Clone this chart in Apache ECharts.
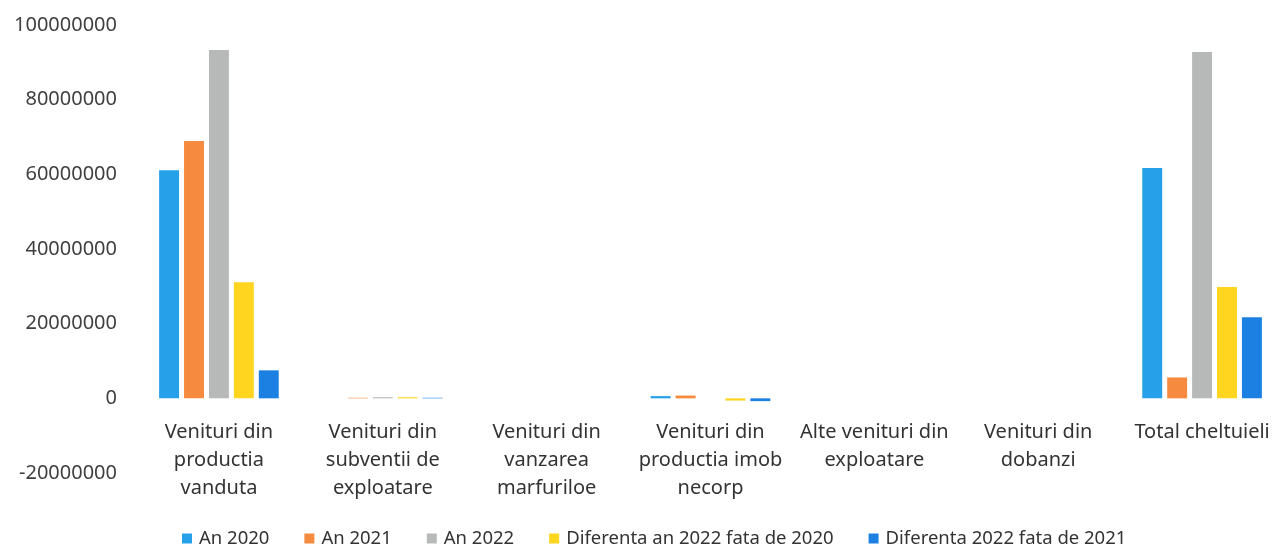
<!DOCTYPE html>
<html>
<head>
<meta charset="utf-8">
<script src="https://cdn.jsdelivr.net/npm/echarts@6/dist/echarts.min.js"></script>
<style>
html,body{margin:0;padding:0;background:#fff;}
#chart{width:1273px;height:546px;}
</style>
</head>
<body>
<div id="chart"></div>
<script>
var categories = [
  "Venituri din\nproductia\nvanduta",
  "Venituri din\nsubventii de\nexploatare",
  "Venituri din\nvanzarea\nmarfuriloe",
  "Venituri din\nproductia imob\nnecorp",
  "Alte venituri din\nexploatare",
  "Venituri din\ndobanzi",
  "Total cheltuieli"
];
var seriesNames = ["An 2020", "An 2021", "An 2022", "Diferenta an 2022 fata de 2020", "Diferenta 2022 fata de 2021"];
var an2020 = [61100000, 0, 0, 600000, 0, 0, 61700000];
var an2021 = [68900000, 150000, 0, 750000, 0, 0, 5600000];
var an2022 = [93300000, 300000, 0, 0, 0, 0, 92800000];
var dif2020 = [31100000, 300000, 0, -600000, 0, 0, 29800000];
var dif2021 = [7500000, 150000, 0, -750000, 0, 0, 21700000];
var colors = ["#27A0EA", "#F68A3E", "#B7B9B8", "#FFD51F", "#1B80E2"];
var yMin = -20000000, yMax = 100000000, yStep = 20000000;

var values = [an2020, an2021, an2022, dif2020, dif2021];
var series = values.map(function (v, i) {
  return {
    name: seriesNames[i],
    type: 'bar',
    data: v,
    barGap: '25%',
    barCategoryGap: '27%',
    itemStyle: { color: colors[i] }
  };
});

var gridTop = 25, gridBottom = 73, chartH = 546;
var plotH = chartH - gridTop - gridBottom;
var zeroOffset = plotH * (0 - yMin) / (yMax - yMin);

var chart = echarts.init(document.getElementById('chart'));
chart.setOption({
  animation: false,
  color: colors,
  grid: { left: 137, right: -11, top: gridTop, bottom: gridBottom, containLabel: false, outerBoundsMode: 'none' },
  legend: {
    data: seriesNames,
    top: 524,
    left: 177,
    itemWidth: 10,
    itemHeight: 10,
    itemGap: 35,
    icon: 'rect',
    textStyle: { fontFamily: 'Noto Sans', fontSize: 18.5, color: '#333', padding: [0, 0, 0, 2] }
  },
  xAxis: {
    type: 'category',
    data: categories,
    offset: -zeroOffset,
    axisLine: { show: false, onZero: false },
    axisTick: { show: false },
    axisLabel: {
      interval: 0,
      margin: 20,
      fontFamily: 'Noto Sans',
      fontSize: 20,
      lineHeight: 28,
      color: '#333'
    }
  },
  yAxis: {
    type: 'value',
    min: yMin,
    max: yMax,
    interval: yStep,
    splitLine: { show: false },
    axisLine: { show: false },
    axisTick: { show: false },
    axisLabel: {
      margin: 20,
      fontFamily: 'Noto Sans',
      fontSize: 20,
      color: '#404040',
      formatter: function (v) { return String(v); }
    }
  },
  series: series
});
</script>
</body>
</html>
